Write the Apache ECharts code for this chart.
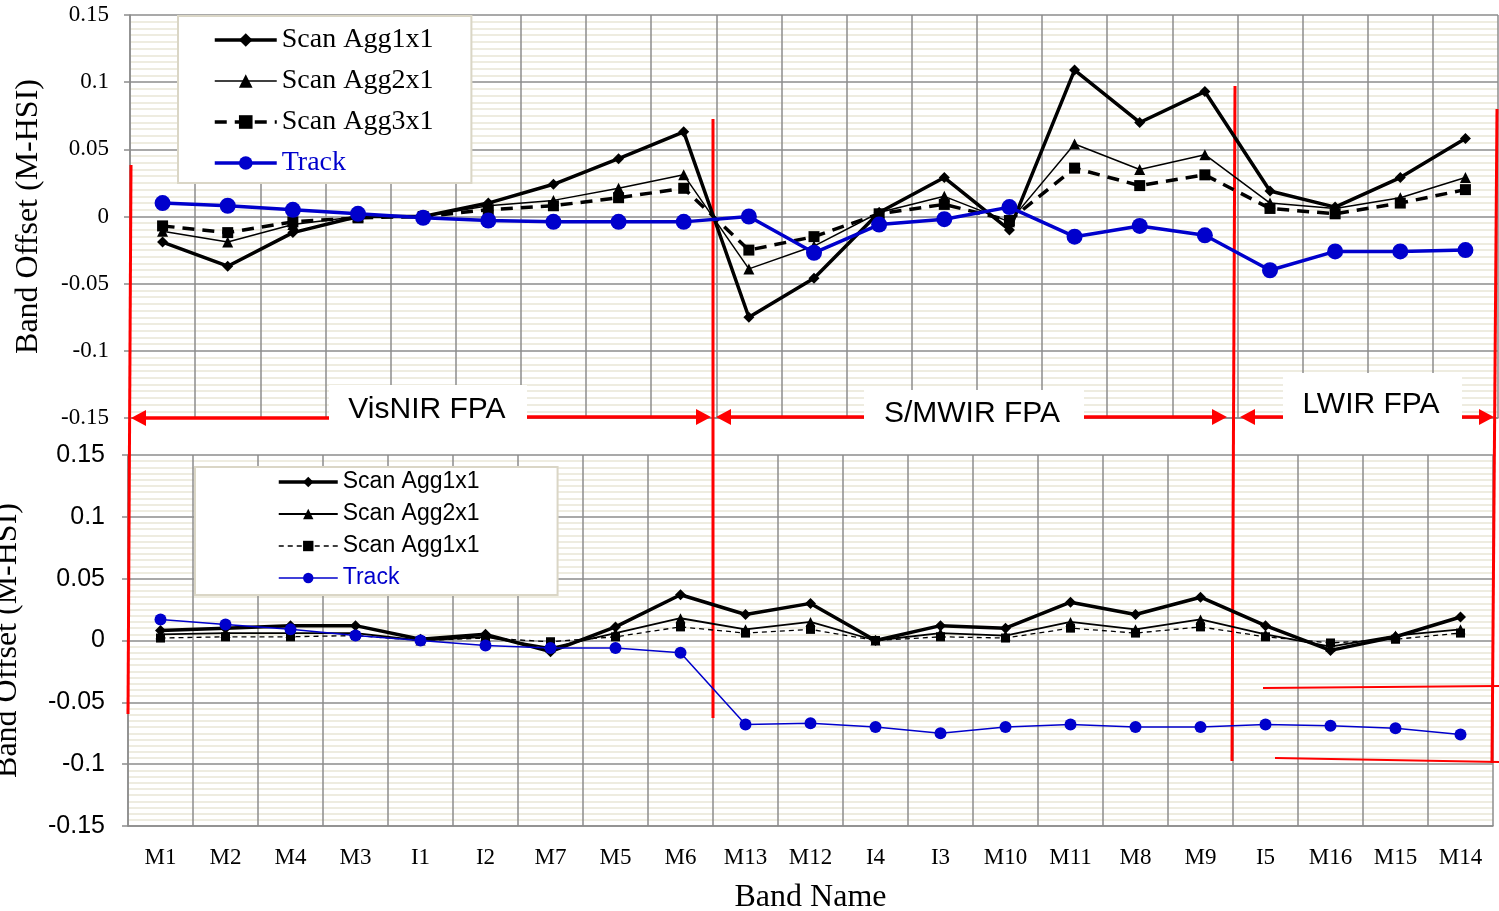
<!DOCTYPE html>
<html>
<head>
<meta charset="utf-8">
<script src="https://cdn.jsdelivr.net/npm/echarts@6/dist/echarts.min.js"></script>
<style>
  html, body { margin: 0; padding: 0; background: #fff; }
  #chart { width: 1499px; height: 911px; }
</style>
</head>
<body>
<div id="chart"></div>
<script>
// band order along the x axis
const categories = ['M1', 'M2', 'M4', 'M3', 'I1', 'I2', 'M7', 'M5', 'M6', 'M13', 'M12', 'I4', 'I3', 'M10', 'M11', 'M8', 'M9', 'I5', 'M16', 'M15', 'M14']

// upper panel
const topAgg1 = [-0.019, -0.037, -0.012, 0.0, 0.0, 0.010, 0.024, 0.043, 0.063, -0.075, -0.046, 0.003, 0.029, -0.010, 0.109, 0.070, 0.093, 0.019, 0.007, 0.029, 0.058]
const topAgg2 = [-0.011, -0.019, -0.006, 0.0, 0.0, 0.008, 0.012, 0.021, 0.031, -0.039, -0.022, 0.003, 0.015, -0.004, 0.054, 0.035, 0.046, 0.010, 0.006, 0.014, 0.029]
const topAgg3 = [-0.007, -0.012, -0.004, -0.001, 0.0, 0.005, 0.008, 0.014, 0.021, -0.025, -0.015, 0.002, 0.009, -0.003, 0.036, 0.023, 0.031, 0.006, 0.002, 0.010, 0.020]
const topTrack = [0.010, 0.008, 0.005, 0.002, -0.001, -0.003, -0.004, -0.004, -0.004, 0.000, -0.027, -0.006, -0.002, 0.007, -0.015, -0.007, -0.014, -0.040, -0.026, -0.026, -0.025]

// lower panel
const botAgg1 = [0.008, 0.010, 0.012, 0.012, 0.001, 0.005, -0.009, 0.011, 0.037, 0.021, 0.030, 0.000, 0.012, 0.010, 0.031, 0.021, 0.035, 0.012, -0.008, 0.003, 0.019]
const botAgg2 = [0.005, 0.006, 0.006, 0.006, 0.000, 0.003, -0.006, 0.006, 0.018, 0.009, 0.015, 0.000, 0.006, 0.004, 0.015, 0.009, 0.017, 0.005, -0.005, 0.004, 0.009]
const botAgg3 = [0.002, 0.003, 0.003, 0.004, 0.000, 0.002, -0.001, 0.003, 0.011, 0.006, 0.009, 0.000, 0.003, 0.002, 0.010, 0.006, 0.011, 0.003, -0.002, 0.001, 0.006]
const botTrack = [0.017, 0.013, 0.009, 0.004, 0.000, -0.004, -0.006, -0.006, -0.010, -0.068, -0.067, -0.070, -0.075, -0.070, -0.068, -0.070, -0.070, -0.068, -0.069, -0.071, -0.076]

const topNames = ['Scan Agg1x1', 'Scan Agg2x1', 'Scan Agg3x1', 'Track']
// the lower legend repeats "Scan Agg1x1" for the dashed line
const botLabels = ['Scan Agg1x1', 'Scan Agg2x1', 'Scan Agg1x1', 'Track']
const botNames = ['b0', 'b1', 'b2', 'b3']

const serif = 'Liberation Serif'
const sans = 'Liberation Sans'
const grey = '#8c8c8c'
const blue = '#0000cc'
const red = '#ff0000'

// line widths, also used for the legend samples
const topWidths = [3.5, 1.5, 3.5, 3.5]
const botWidths = [3.5, 1.8, 1.3, 1.5]

const fmt = (v) => String(+v.toFixed(2))

function xAxisOf (grid, showLabels) {
  return {
    type: 'category',
    gridIndex: grid,
    data: categories,
    boundaryGap: true,
    axisLine: { onZero: false, lineStyle: { color: grey, width: 1.5 } },
    axisTick: { length: 7, lineStyle: { color: grey, width: 1.5 } },
    axisLabel: showLabels
      ? { fontFamily: serif, fontSize: 23, color: '#000', margin: 20 }
      : { show: false },
    splitLine: { show: true, lineStyle: { color: grey, width: 1.5 } }
  }
}

function yAxisOf (grid, font, size, margin, gap) {
  return {
    type: 'value',
    gridIndex: grid,
    min: -0.15,
    max: 0.15,
    interval: 0.05,
    name: 'Band Offset (M-HSI)',
    nameLocation: 'middle',
    nameGap: gap,
    nameTextStyle: { fontFamily: serif, fontSize: 32, color: '#000' },
    axisLine: { show: true, lineStyle: { color: grey, width: 1.5 } },
    axisTick: { show: true, length: 6, lineStyle: { color: grey, width: 1.5 } },
    axisLabel: { fontFamily: font, fontSize: size, color: '#000', margin, formatter: fmt },
    splitLine: { lineStyle: { color: grey, width: 1.5 } },
    minorTick: { show: false, splitNumber: 10 },
    minorSplitLine: { show: true, lineStyle: { color: '#e9e6d6', width: 1.5 } }
  }
}

// red annotation helpers
function seg (x1, y1, x2, y2, w) {
  return { type: 'line', z: 1, shape: { x1, y1, x2, y2 }, style: { stroke: red, lineWidth: w } }
}
function head (x, y, dir) {
  return {
    type: 'polygon', z: 1,
    shape: { points: [[x, y], [x - dir * 15, y - 8], [x - dir * 15, y + 8]] },
    style: { fill: red }
  }
}
function box (x, y, w, h) {
  return { type: 'rect', z: 1, shape: { x, y, width: w, height: h }, style: { fill: '#fff' } }
}
function label (text, x, y) {
  return {
    type: 'text', z: 1, x, y,
    style: { text, fill: '#000', font: '30px "' + sans + '"', align: 'center', verticalAlign: 'middle' }
  }
}

const graphics = [
  box(329, 385, 198, 66), box(864, 390, 220, 61), box(1283, 373, 179, 78),
  seg(131, 165, 128, 714, 3), seg(713, 119, 713, 718, 3),
  seg(1235, 86, 1232, 761, 3), seg(1497, 109, 1492, 763, 3),
  seg(1263, 688, 1499, 686, 2), seg(1275, 758, 1499, 762, 2),
  seg(140, 418, 329, 418, 3.5), head(131, 418, -1),
  seg(527, 417, 700, 417, 3.5), head(711, 417, 1),
  seg(727, 417, 864, 417, 3.5), head(716, 417, -1),
  seg(1084, 417, 1215, 417, 3.5), head(1227, 417, 1),
  seg(1252, 417, 1283, 417, 3.5), head(1240, 417, -1),
  seg(1462, 417, 1482, 417, 3.5), head(1494, 417, 1),
  label('VisNIR FPA', 427, 410), label('S/MWIR FPA', 972, 414), label('LWIR FPA', 1371, 405)
]

function lineSeries (name, data, axis, symbol, size, color, width, dash) {
  return {
    name,
    type: 'line',
    xAxisIndex: axis,
    yAxisIndex: axis,
    data,
    symbol,
    symbolSize: size,
    showAllSymbol: true,
    itemStyle: { color },
    lineStyle: { color, width, type: dash || 'solid' }
  }
}

function legendItem (name, text, width) {
  const item = { name, lineStyle: { width } }
  if (text === 'Track') item.textStyle = { color: blue }
  return item
}

const chart = echarts.init(document.getElementById('chart'))

chart.setOption({
  animation: false,
  backgroundColor: '#fff',
  grid: [
    { left: 130, top: 15, width: 1368, height: 403, outerBoundsMode: 'none' },
    { left: 128, top: 455, width: 1365, height: 371, outerBoundsMode: 'none' }
  ],
  xAxis: [
    xAxisOf(0, false),
    Object.assign(xAxisOf(1, true), {
      name: 'Band Name',
      nameLocation: 'middle',
      nameGap: 56,
      nameTextStyle: { fontFamily: serif, fontSize: 32, color: '#000' }
    })
  ],
  yAxis: [
    yAxisOf(0, serif, 23, 21, 85),
    yAxisOf(1, sans, 25, 23, 104)
  ],
  legend: [
    {
      orient: 'vertical',
      left: 178,
      top: 16,
      padding: [9, 38, 5, 35],
      backgroundColor: '#fff',
      borderColor: '#dad6c6',
      borderWidth: 2,
      itemWidth: 62,
      itemHeight: 17,
      itemGap: 11,
      textStyle: { fontFamily: serif, fontSize: 28, color: '#000', lineHeight: 30 },
      data: topNames.map((n, i) => legendItem(n, n, topWidths[i]))
    },
    {
      orient: 'vertical',
      left: 195,
      top: 467,
      padding: [2, 78, 4, 82],
      backgroundColor: '#fff',
      borderColor: '#dad6c6',
      borderWidth: 2,
      itemWidth: 59,
      itemHeight: 13,
      itemGap: 6,
      textStyle: { fontFamily: sans, fontSize: 23, color: '#000', lineHeight: 26 },
      formatter: (n) => botLabels[botNames.indexOf(n)],
      data: botNames.map((n, i) => legendItem(n, botLabels[i], botWidths[i]))
    }
  ],
  graphic: graphics,
  series: [
    lineSeries(topNames[0], topAgg1, 0, 'diamond', 11, '#000', topWidths[0]),
    lineSeries(topNames[1], topAgg2, 0, 'triangle', 11, '#000', topWidths[1]),
    lineSeries(topNames[2], topAgg3, 0, 'rect', 11, '#000', topWidths[2], [12, 8]),
    lineSeries(topNames[3], topTrack, 0, 'circle', 16, blue, topWidths[3]),
    lineSeries(botNames[0], botAgg1, 1, 'diamond', 11, '#000', botWidths[0]),
    lineSeries(botNames[1], botAgg2, 1, 'triangle', 10, '#000', botWidths[1]),
    lineSeries(botNames[2], botAgg3, 1, 'rect', 9, '#000', botWidths[2], [5, 4]),
    lineSeries(botNames[3], botTrack, 1, 'circle', 12, blue, botWidths[3])
  ]
})
</script>
</body>
</html>
